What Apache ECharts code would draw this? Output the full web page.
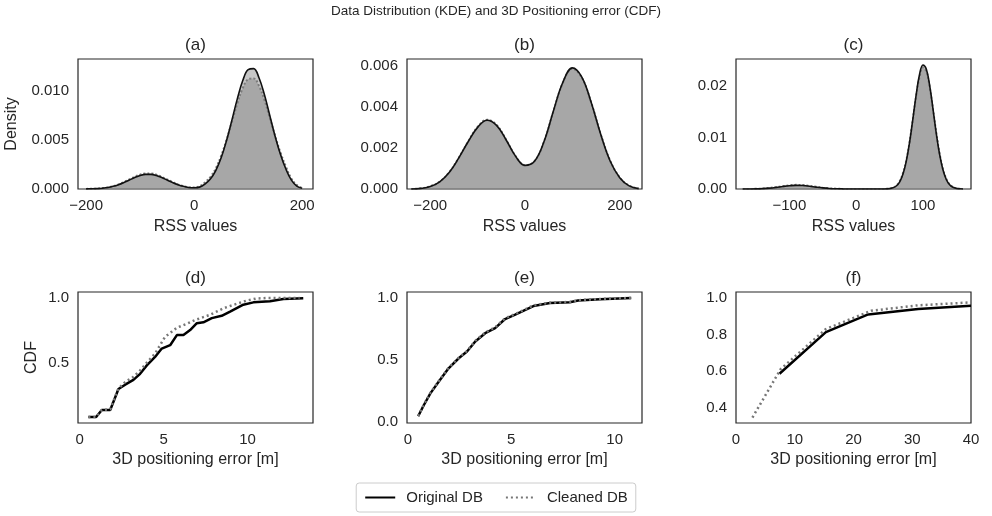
<!DOCTYPE html>
<html>
<head>
<meta charset="utf-8">
<script src="https://cdn.jsdelivr.net/npm/echarts@6/dist/echarts.min.js"></script>
<style>
html,body{margin:0;padding:0;background:#fff;}
#main{width:992px;height:516px;}
</style>
</head>
<body>
<div id="main"></div>
<script>
// (a) KDE
var rssA = [-200,-190,-180,-170,-160,-150,-140,-130,-120,-110,-100,-90,-80,-70,-60,-50,-40,-30,-20,-10,0,10,20,30,40,50,60,70,80,90,100,110,120,130,140,150,160,170,180,190,200];
var kdeAOrig = [0.00001,0.00002,0.00004,0.00008,0.00015,0.00027,0.00044,0.00066,0.00091,0.00116,0.00137,0.00148,0.00148,0.00137,0.00116,0.00091,0.00066,0.00044,0.00027,0.00016,0.00012,0.00019,0.00050,0.00101,0.00187,0.00317,0.00493,0.00702,0.00918,0.01101,0.01211,0.01222,0.01130,0.00959,0.00746,0.00533,0.00348,0.00200,0.00090,0.00030,0.00008];
var kdeAClean = [0.00001,0.00002,0.00004,0.00009,0.00016,0.00029,0.00047,0.00071,0.00097,0.00124,0.00146,0.00158,0.00158,0.00146,0.00124,0.00097,0.00071,0.00047,0.00029,0.00018,0.00014,0.00028,0.00066,0.00122,0.00210,0.00337,0.00499,0.00685,0.00870,0.01024,0.01114,0.01123,0.01048,0.00905,0.00723,0.00535,0.00367,0.00225,0.00105,0.00040,0.00010];

// (b) KDE
var rssB = [-240,-220,-200,-180,-160,-140,-120,-100,-80,-60,-40,-20,0,20,40,60,80,100,120,140,160,180,200,220,240];
var kdeBOrig = [0.00000,0.00003,0.00012,0.00035,0.00080,0.00150,0.00230,0.00300,0.00335,0.00310,0.00240,0.00160,0.00115,0.00135,0.00230,0.00380,0.00520,0.00590,0.00545,0.00420,0.00265,0.00135,0.00055,0.00015,0.00002];
var kdeBClean = [0.00000,0.00003,0.00013,0.00036,0.00081,0.00151,0.00231,0.00302,0.00337,0.00312,0.00241,0.00161,0.00116,0.00135,0.00229,0.00378,0.00517,0.00586,0.00542,0.00419,0.00266,0.00137,0.00056,0.00016,0.00002];

// (c) KDE
var rssC = [-170,-160,-150,-140,-130,-120,-110,-100,-90,-80,-70,-60,-50,-40,-30,-20,-10,0,10,20,30,40,50,55,60,65,70,75,80,85,90,95,100,105,110,115,120,125,130,135,140,145,150,155,160];
var kdeCOrig = [0.00000,0.00001,0.00003,0.00008,0.00017,0.00031,0.00048,0.00062,0.00070,0.00067,0.00054,0.00037,0.00022,0.00011,0.00005,0.00002,0.00001,0,0,0,0,0.00001,0.00007,0.00022,0.00058,0.00135,0.00285,0.00536,0.00904,0.01364,0.01841,0.02225,0.02405,0.02326,0.02013,0.01559,0.01080,0.00670,0.00372,0.00185,0.00082,0.00033,0.00012,0.00004,0.00001];
var kdeCClean = [0.00000,0.00001,0.00004,0.00009,0.00020,0.00036,0.00055,0.00071,0.00080,0.00077,0.00062,0.00043,0.00025,0.00013,0.00006,0.00002,0.00001,0,0,0,0,0.00001,0.00009,0.00026,0.00064,0.00145,0.00298,0.00548,0.00910,0.01353,0.01810,0.02180,0.02355,0.02282,0.01985,0.01548,0.01085,0.00683,0.00385,0.00195,0.00089,0.00037,0.00014,0.00005,0.00001];

// (d) CDF
var errDOrig = [0.52,0.98,1.32,1.82,2.31,2.71,3.2,3.6,4.0,4.49,4.89,5.39,5.79,6.18,6.58,6.98,7.37,7.87,8.46,8.96,9.75,10.35,11.34,12.13,13.32];
var cdfDOrig = [0.08,0.08,0.135,0.135,0.297,0.33,0.367,0.414,0.479,0.544,0.609,0.635,0.713,0.713,0.752,0.805,0.812,0.844,0.862,0.895,0.948,0.966,0.974,0.992,0.997];
var errDClean = [0.52,0.98,1.32,1.82,2.31,2.71,3.2,3.6,4.0,4.49,5.09,5.5,5.79,6.38,6.88,7.77,8.56,9.36,9.95,10.5,11.14,13.1];
var cdfDClean = [0.08,0.08,0.135,0.14,0.30,0.35,0.39,0.44,0.50,0.57,0.70,0.74,0.77,0.80,0.83,0.87,0.92,0.955,0.98,0.995,1.0,1.0];

// (e) CDF
var errE = [0.5,0.77,1.09,1.49,1.97,2.46,2.86,3.26,3.74,4.22,4.7,5.19,6.07,6.87,7.83,8.23,9.28,10.8];
var cdfEOrig = [0.046,0.135,0.231,0.325,0.433,0.514,0.568,0.649,0.716,0.757,0.83,0.865,0.935,0.96,0.965,0.98,0.99,1.0];
var cdfEClean = [0.048,0.138,0.235,0.328,0.437,0.518,0.572,0.654,0.721,0.763,0.836,0.87,0.94,0.962,0.968,0.982,0.992,1.0];

// (f) CDF
var errFOrig = [7.4,15.3,22.5,31,40];
var cdfFOrig = [0.585,0.813,0.91,0.94,0.958];
var errFClean = [2.8,7.6,15.3,23,31,40];
var cdfFClean = [0.345,0.61,0.83,0.93,0.96,0.976];

// tick labels
var ticksRssAB = [-200,0,200];
var ticksRssC = [-100,0,100];
var ticksDensA = [0,0.005,0.010];
var ticksDensB = [0,0.002,0.004,0.006];
var ticksDensC = [0,0.01,0.02];
var ticksErrDE = [0,5,10];
var ticksErrF = [0,10,20,30,40];
var ticksCdfD = [0.5,1.0];
var ticksCdfE = [0,0.5,1.0];
var ticksCdfF = [0.4,0.6,0.8,1.0];

var FONT = '"Liberation Sans", Arial, sans-serif';
var TXT = '#262626';

function pairs(xs, ys) {
    return xs.map(function (x, i) { return [x, ys[i]]; });
}

function fmt(dec) {
    return function (v) {
        var s = Math.abs(v).toFixed(dec);
        return v < 0 ? '\u2212' + s : s;
    };
}

function axis(idx, min, max, ticks, dec, name, gap) {
    return {
        type: 'value', gridIndex: idx, min: min, max: max,
        name: name || '', nameLocation: 'middle', nameGap: gap || 30,
        nameTextStyle: {fontSize: 16, color: TXT, fontFamily: FONT},
        axisLine: {show: false}, axisTick: {show: false}, splitLine: {show: false},
        axisLabel: {customValues: ticks, formatter: fmt(dec), fontSize: 15, color: TXT, fontFamily: FONT, margin: 9}
    };
}

var cols = [78, 407, 736];
var grids = [];
for (var r = 0; r < 2; r++) {
    for (var c = 0; c < 3; c++) {
        grids.push({
            left: cols[c], top: r === 0 ? 59 : 292, width: 235, height: r === 0 ? 130 : 131,
            show: true, borderColor: TXT, borderWidth: 1.2, backgroundColor: 'transparent'
        });
    }
}

var xAxes = [
    axis(0, -215, 220, ticksRssAB, 0, 'RSS values', 30),
    axis(1, -249, 247, ticksRssAB, 0, 'RSS values', 30),
    axis(2, -180, 172, ticksRssC, 0, 'RSS values', 30),
    axis(3, -0.1, 13.9, ticksErrDE, 0, '3D positioning error [m]', 29),
    axis(4, -0.04, 11.32, ticksErrDE, 0, '3D positioning error [m]', 29),
    axis(5, 0, 40, ticksErrF, 0, '3D positioning error [m]', 29)
];
var yAxes = [
    axis(0, 0, 0.0132, ticksDensA, 3, 'Density', 58),
    axis(1, 0, 0.00633, ticksDensB, 3),
    axis(2, 0, 0.0252, ticksDensC, 2),
    axis(3, 0.034, 1.046, ticksCdfD, 1, 'CDF', 38),
    axis(4, -0.008, 1.048, ticksCdfE, 1),
    axis(5, 0.315, 1.033, ticksCdfF, 1)
];

function cdfLine(idx, name, data, clean) {
    var col = clean ? '#777777' : '#000000';
    return {
        type: 'line', name: name, xAxisIndex: idx, yAxisIndex: idx, data: data,
        symbol: 'none', smooth: false,
        itemStyle: {color: col},
        lineStyle: clean ? {color: col, width: 2.5, type: [2, 3]} : {color: col, width: 2.5}
    };
}

function kdeLine(idx, name, data, clean) {
    var col = clean ? '#777777' : '#111111';
    return {
        type: 'line', name: name, xAxisIndex: idx, yAxisIndex: idx, data: data,
        symbol: 'none', smooth: 0.4,
        itemStyle: {color: col},
        lineStyle: clean ? {color: col, width: 2, type: [2, 2]} : {color: col, width: 1.6},
        areaStyle: {color: 'rgba(128,128,128,0.45)', opacity: 1},
        z: clean ? 2 : 3
    };
}

var series = [
    cdfLine(3, 'Original DB', pairs(errDOrig, cdfDOrig), false),
    cdfLine(3, 'Cleaned DB', pairs(errDClean, cdfDClean), true),
    cdfLine(4, 'Original DB', pairs(errE, cdfEOrig), false),
    cdfLine(4, 'Cleaned DB', pairs(errE, cdfEClean), true),
    cdfLine(5, 'Original DB', pairs(errFOrig, cdfFOrig), false),
    cdfLine(5, 'Cleaned DB', pairs(errFClean, cdfFClean), true),
    kdeLine(0, 'Original DB', pairs(rssA, kdeAOrig), false),
    kdeLine(0, 'Cleaned DB', pairs(rssA, kdeAClean), true),
    kdeLine(1, 'Original DB', pairs(rssB, kdeBOrig), false),
    kdeLine(1, 'Cleaned DB', pairs(rssB, kdeBClean), true),
    kdeLine(2, 'Original DB', pairs(rssC, kdeCOrig), false),
    kdeLine(2, 'Cleaned DB', pairs(rssC, kdeCClean), true)
];

function label(x, y, text, size) {
    return {
        type: 'text', x: x, y: y,
        style: {text: text, fontSize: size, fill: TXT, fontFamily: FONT, textAlign: 'center', textVerticalAlign: 'middle'}
    };
}

var option = {
    backgroundColor: '#ffffff',
    animation: false,
    grid: grids,
    xAxis: xAxes,
    yAxis: yAxes,
    series: series,
    legend: {
        data: ['Original DB', 'Cleaned DB'],
        left: 'center', top: 483,
        itemWidth: 30, itemHeight: 12, itemGap: 22,
        padding: [7, 8],
        itemStyle: {opacity: 0},
        borderColor: '#cccccc', borderWidth: 1, borderRadius: 3,
        textStyle: {fontSize: 15, color: TXT, fontFamily: FONT, padding: [0, 0, 0, 6]}
    },
    graphic: [
        label(496, 11, 'Data Distribution (KDE) and 3D Positioning error (CDF)', 13.5),
        label(195.5, 45, '(a)', 17),
        label(524.5, 45, '(b)', 17),
        label(853.5, 45, '(c)', 17),
        label(195.5, 278, '(d)', 17),
        label(524.5, 278, '(e)', 17),
        label(853.5, 278, '(f)', 17)
    ]
};

var chart = echarts.init(document.getElementById('main'));
chart.setOption(option);
</script>
</body>
</html>
